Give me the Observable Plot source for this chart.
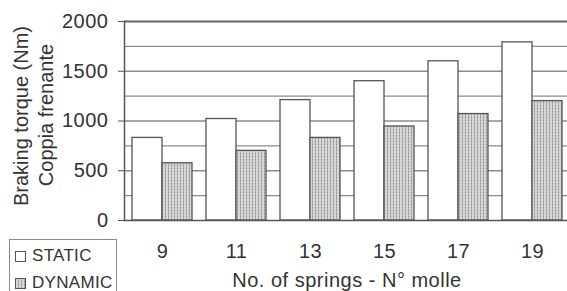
<!DOCTYPE html>
<html>
<head>
<meta charset="utf-8">
<script src="https://cdn.jsdelivr.net/npm/d3@7"></script>
<script src="https://cdn.jsdelivr.net/npm/@observablehq/plot@0.6"></script>
<style>
  html, body { margin: 0; padding: 0; background: #fff; overflow: hidden; }
  #wrap { position: relative; width: 567px; height: 291px; }
  #wrap svg g[aria-label="x-axis tick label"] text,
  #wrap svg g[aria-label="y-axis tick label"] text,
  #wrap svg g[aria-label="x-axis label"] text { letter-spacing: 0.5px; }
  #legend {
    position: absolute; left: 9px; top: 239px; width: 108px; height: 60px;
    border: 1px solid #8a8a8a; box-sizing: border-box;
    font-family: "Liberation Sans", Arial, sans-serif; font-size: 17px; color: #333;
  }
  .row { position: absolute; left: 5px; display: flex; align-items: center; height: 20px; }
  .row span { margin-left: 6px; letter-spacing: 0.3px; }
</style>
</head>
<body>
<div id="wrap"></div>
<script>
const springs = [9, 11, 13, 15, 17, 19];
const staticTorque = [830, 1020, 1210, 1400, 1600, 1790];
const dynamicTorque = [575, 700, 830, 945, 1070, 1200];
const seriesNames = ["STATIC", "DYNAMIC"];
const yTicks = [0, 500, 1000, 1500, 2000];
const gridValues = [250, 500, 750, 1000, 1250, 1500, 1750];
const yLabelLines = ["Braking torque (Nm)", "Coppia frenante"];
const xLabel = "No. of springs - N° molle";

const staticRows = springs.map((s, i) => ({springs: s, type: seriesNames[0], value: staticTorque[i]}));
const dynamicRows = springs.map((s, i) => ({springs: s, type: seriesNames[1], value: dynamicTorque[i]}));

const chart = Plot.plot({
  width: 567,
  height: 291,
  marginLeft: 124,
  marginRight: -2,
  marginTop: 21,
  marginBottom: 71,
  style: {fontFamily: "'Liberation Sans', Arial, sans-serif", fontSize: "20px", color: "#333", background: "transparent"},
  x: {type: "band", domain: springs, paddingInner: 0.19, paddingOuter: 0.095},
  y: {domain: [0, 2000]},
  marks: [
    Plot.ruleY(gridValues, {stroke: "#8c8c8c", strokeWidth: 1.4}),
    Plot.ruleY([2000], {stroke: "#666", strokeWidth: 2}),
    Plot.barY(staticRows, {x: "springs", y: "value", fill: "#fff", stroke: "#555", strokeWidth: 1.3, insetRight: 30}),
    Plot.barY(dynamicRows, {x: "springs", y: "value", fill: "url(#dots)", stroke: "#555", strokeWidth: 1.3, insetLeft: 30}),
    Plot.ruleY([0], {stroke: "#555", strokeWidth: 1.5}),
    Plot.frame({anchor: "left", stroke: "#555", strokeWidth: 1.5}),
    Plot.axisY({ticks: yTicks, tickSize: 6, tickPadding: 10, tickFormat: d3.format("d"), label: null, stroke: "#555"}),
    Plot.axisX({tickSize: 0, tickPadding: 23, label: xLabel, labelAnchor: "center", labelOffset: 66, labelArrow: "none"}),
    Plot.text([yLabelLines[0]], {text: d => d, frameAnchor: "left", rotate: -90, dx: -103, dy: -5, lineAnchor: "middle", textAnchor: "middle", fill: "#333"}),
    Plot.text([yLabelLines[1]], {text: d => d, frameAnchor: "left", rotate: -90, dx: -78, dy: -6, lineAnchor: "middle", textAnchor: "middle", fill: "#333"})
  ]
});

const defs = d3.select(chart).insert("defs", ":first-child");
const pat = defs.append("pattern").attr("id", "dots").attr("width", 3).attr("height", 3).attr("patternUnits", "userSpaceOnUse");
pat.append("rect").attr("width", 3).attr("height", 3).attr("fill", "#d6d6d6");
pat.append("rect").attr("width", 1).attr("height", 3).attr("fill", "#b0b0b0");
pat.append("rect").attr("width", 1).attr("height", 1).attr("fill", "#8c8c8c");

const wrap = document.getElementById("wrap");
wrap.appendChild(chart);

const legend = document.createElement("div");
legend.id = "legend";
legend.innerHTML = seriesNames.map((name, i) => `
  <div class="row" style="top:${6 + i * 27}px">
    <svg width="11" height="11"><rect x="0.5" y="0.5" width="10" height="10" fill="${i === 0 ? "#fff" : "url(#dots2)"}" stroke="#555"/>
    ${i === 1 ? '<defs><pattern id="dots2" width="3" height="3" patternUnits="userSpaceOnUse"><rect width="3" height="3" fill="#d6d6d6"/><rect width="1" height="3" fill="#b0b0b0"/><rect width="1" height="1" fill="#8c8c8c"/></pattern></defs>' : ""}</svg>
    <span>${name}</span>
  </div>`).join("");
wrap.appendChild(legend);
</script>
</body>
</html>
